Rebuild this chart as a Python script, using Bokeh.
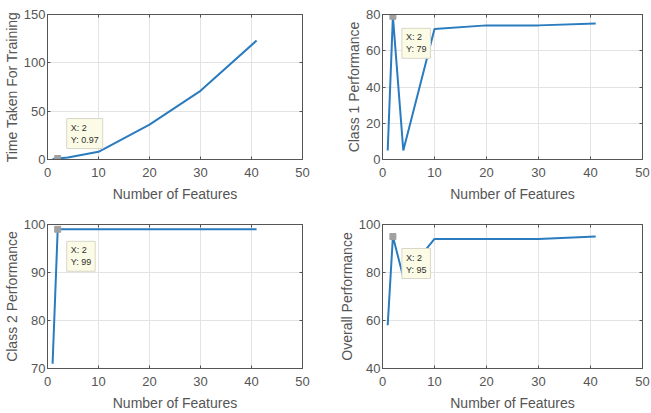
from bokeh.plotting import figure
from bokeh.layouts import gridplot
from bokeh.models import Range1d, LinearAxis, FixedTicker, Label, ColumnDataSource, CustomJSTickFormatter
from bokeh.embed import file_html
from bokeh.resources import INLINE

features = [1, 2, 4, 10, 20, 30, 41]
time_taken = [0.5, 0.97, 2.0, 8.0, 36.0, 71.0, 123.0]
class1_perf = [5, 79, 5, 72, 74, 74, 75]
class2_perf = [71, 99, 99, 99, 99, 99, 99]
overall_perf = [58, 95, 78, 94, 94, 94, 95]

x_ticks = [0, 10, 20, 30, 40, 50]
tip_x = 2
tips = {"time": "0.97", "c1": "79", "c2": "99", "ov": "95"}

FONT = "Liberation Sans"
TXT = "#555555"
FRAME = "#555555"
LINE = "#2b7bbf"


def make(yvals, ylabel, yr, yticks, tipval, tip_label, tip_below, w, h, bl, br, bt, bb):
    p = figure(width=w, height=h, output_backend="svg",
               toolbar_location=None, x_range=Range1d(0, 50),
               y_range=Range1d(*yr), min_border_left=bl, min_border_right=br,
               min_border_top=bt, min_border_bottom=bb)
    p.outline_line_color = FRAME
    p.outline_line_width = 1
    for ax, ticks in ((p.xaxis[0], x_ticks), (p.yaxis[0], yticks)):
        ax.ticker = FixedTicker(ticks=ticks)
        ax.major_tick_in = 3
        ax.major_tick_out = 0
        ax.minor_tick_line_color = None
        ax.axis_line_color = FRAME
        ax.major_tick_line_color = FRAME
        ax.major_label_text_font = FONT
        ax.major_label_text_font_size = "13px"
        ax.major_label_text_color = TXT
        ax.axis_label_text_font = FONT
        ax.axis_label_text_font_size = "14px"
        ax.axis_label_text_font_style = "normal"
        ax.axis_label_text_color = TXT
    p.xaxis.axis_label = "Number of Features"
    p.xaxis.major_label_standoff = 8
    p.xaxis.axis_label_standoff = 6
    p.yaxis.axis_label = ylabel
    p.yaxis.major_label_standoff = 2
    p.yaxis.axis_label_standoff = 1
    for loc, ticks in (("above", x_ticks), ("right", yticks)):
        a = LinearAxis(ticker=FixedTicker(ticks=ticks), major_tick_in=3,
                       major_tick_out=0, minor_tick_line_color=None,
                       formatter=CustomJSTickFormatter(code="return ''"),
                       major_label_standoff=0,
                       axis_line_color=FRAME, major_tick_line_color=FRAME)
        p.add_layout(a, loc)
    p.xgrid.ticker = FixedTicker(ticks=x_ticks)
    p.ygrid.ticker = FixedTicker(ticks=yticks)
    p.grid.grid_line_color = "#e3e3e3"
    src = ColumnDataSource(dict(x=features, y=yvals))
    p.line("x", "y", source=src, line_color=LINE, line_width=2)
    p.scatter([tip_x], [float(tipval)], marker="square", size=6,
              fill_color="#a0a0a0", line_color="#a0a0a0")
    lab = Label(x=tip_x, y=float(tipval), x_offset=9,
                y_offset=(-12 if tip_below else 10),
                text=f"X: {tip_x}\nY: {tip_label}",
                text_font=FONT, text_font_size="9px", text_color="#303030",
                text_align="left",
                text_baseline=("top" if tip_below else "bottom"),
                background_fill_color="#fbfbe6", background_fill_alpha=1,
                border_line_color="#d8d8c8", padding=4)
    p.add_layout(lab)
    return p


p1 = make(time_taken, "Time Taken For Training", (0, 150), [0, 50, 100, 150],
          time_taken[1], tips["time"], False, 325, 207, 42, 23, 14, 48)
p2 = make(class1_perf, "Class 1 Performance", (0, 80), [0, 20, 40, 60, 80],
          class1_perf[1], tips["c1"], True, 326, 207, 57, 9, 14, 48)
p3 = make(class2_perf, "Class 2 Performance", (70, 100), [70, 80, 90, 100],
          class2_perf[1], tips["c2"], True, 325, 206, 42, 23, 17, 44)
p4 = make(overall_perf, "Overall Performance", (40, 100), [40, 60, 80, 100],
          overall_perf[1], tips["ov"], True, 326, 206, 57, 9, 17, 44)

g = gridplot([[p1, p2], [p3, p4]], toolbar_location=None)
open("out.html", "w").write(file_html(g, INLINE))
